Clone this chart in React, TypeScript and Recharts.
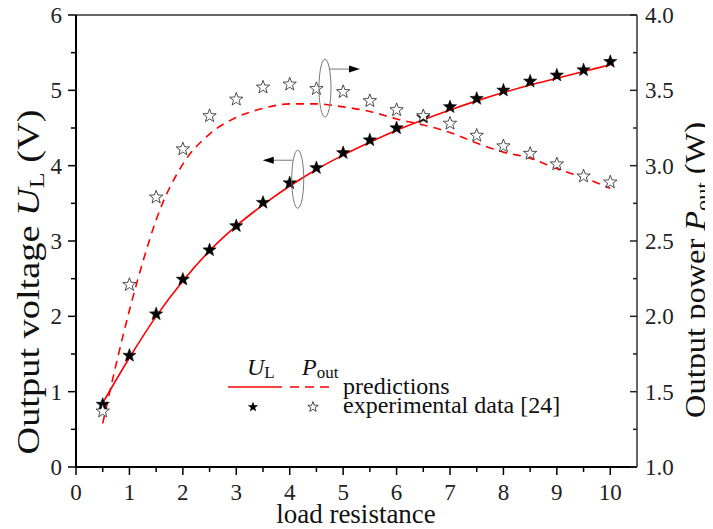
import { ComposedChart, Line, Scatter, XAxis, YAxis, ReferenceLine, ReferenceDot } from 'recharts';

const FONT = 'Liberation Serif, DejaVu Serif, serif';
const TXT = { fontFamily: FONT };

// experimental data, load resistance steps
const xExp = [0.5, 1, 1.5, 2, 2.5, 3, 3.5, 4, 4.5, 5, 5.5, 6, 6.5, 7, 7.5, 8, 8.5, 9, 9.5, 10];
const ulExp = [0.83, 1.48, 2.03, 2.49, 2.88, 3.2, 3.51, 3.77, 3.97, 4.17, 4.34, 4.5, 4.64, 4.78, 4.89, 5.0, 5.12, 5.2, 5.27, 5.38];
const poutExp = [1.37, 2.21, 2.79, 3.11, 3.33, 3.44, 3.52, 3.54, 3.51, 3.49, 3.43, 3.37, 3.33, 3.28, 3.2, 3.13, 3.08, 3.01, 2.93, 2.89];

// predictions
const xUlPred = [0.5, 1, 1.5, 2, 2.5, 3, 3.5, 4, 4.5, 5, 5.5, 6, 6.5, 7, 7.5, 8, 8.5, 9, 9.5, 10];
const ulPred = [0.85, 1.45, 2.0, 2.47, 2.87, 3.2, 3.48, 3.73, 3.95, 4.14, 4.31, 4.47, 4.61, 4.74, 4.86, 4.97, 5.07, 5.16, 5.25, 5.34];
const xPoutPred = [0.5, 0.75, 1, 1.25, 1.5, 2, 2.5, 3, 3.5, 4, 4.5, 5, 5.5, 6, 6.5, 7, 7.5, 8, 8.5, 9, 9.5, 10];
const poutPred = [1.29, 1.68, 2.04, 2.36, 2.64, 3.01, 3.21, 3.32, 3.38, 3.41, 3.41, 3.39, 3.36, 3.31, 3.27, 3.22, 3.15, 3.09, 3.05, 2.98, 2.92, 2.85];

const xTicks = [0, 0.5, 1, 1.5, 2, 2.5, 3, 3.5, 4, 4.5, 5, 5.5, 6, 6.5, 7, 7.5, 8, 8.5, 9, 9.5, 10];
const leftTicks = [0, 0.5, 1, 1.5, 2, 2.5, 3, 3.5, 4, 4.5, 5, 5.5, 6];
const rightTicks = [1, 1.25, 1.5, 1.75, 2, 2.25, 2.5, 2.75, 3, 3.25, 3.5, 3.75, 4];

const toPts = (xs: number[], ys: number[]) => xs.map((x, i) => ({ x, y: ys[i] }));

function starPath(cx: number, cy: number, R: number, r: number) {
  const pts: string[] = [];
  for (let i = 0; i < 10; i++) {
    const rad = i % 2 === 0 ? R : r;
    const a = -Math.PI / 2 + (i * Math.PI) / 5;
    pts.push(`${(cx + rad * Math.cos(a)).toFixed(2)},${(cy + rad * Math.sin(a)).toFixed(2)}`);
  }
  return 'M' + pts.join('L') + 'Z';
}

const FilledStar = (p: any) => <path d={starPath(p.cx, p.cy, 7, 2.9)} fill="#000" stroke="#000" strokeWidth={0.5} />;
const OpenStar = (p: any) => <path d={starPath(p.cx, p.cy, 7, 2.9)} fill="#fff" stroke="#222" strokeWidth={0.8} />;

const XTick = ({ x, y, payload }: any) => {
  const major = Number.isInteger(payload.value);
  return (
    <g>
      <line x1={x} x2={x} y1={y} y2={y + (major ? 8 : 5)} stroke="#000" strokeWidth={1.5} />
      {major && (
        <text x={x} y={y + 33} textAnchor="middle" fontSize={23} style={TXT} fill="#222">
          {payload.value}
        </text>
      )}
    </g>
  );
};

const LeftTick = ({ x, y, payload }: any) => {
  const major = Number.isInteger(payload.value);
  return (
    <g>
      <line x1={x - (major ? 8 : 5)} x2={x} y1={y} y2={y} stroke="#000" strokeWidth={1.5} />
      {major && (
        <text x={x - 14} y={y + 8} textAnchor="end" fontSize={23} style={TXT} fill="#222">
          {payload.value}
        </text>
      )}
    </g>
  );
};

const RightTick = ({ x, y, payload }: any) => {
  const major = Number.isInteger(payload.value * 2);
  return (
    <g>
      <line x1={x - (major ? 7 : 4)} x2={x} y1={y} y2={y} stroke="#222" strokeWidth={1.5} />
      {major && (
        <text x={x + 8} y={y + 8} textAnchor="start" fontSize={23} style={TXT} fill="#222">
          {payload.value.toFixed(1)}
        </text>
      )}
    </g>
  );
};

// ellipse + arrow marking which axis a curve belongs to
const AxisHint = ({ cx, cy, dir }: any) => {
  const ay = cy - 19;
  const x0 = dir > 0 ? cx + 5 : cx - 5;
  const x1 = x0 + dir * 30;
  return (
    <g>
      <ellipse cx={cx} cy={cy} rx={6} ry={29} fill="none" stroke="#777" strokeWidth={1} />
      <line x1={x0} x2={x1 - dir * 10} y1={ay} y2={ay} stroke="#777" strokeWidth={1} />
      <path d={`M${x1},${ay}L${x1 - dir * 11},${ay - 3.5}L${x1 - dir * 11},${ay + 3.5}Z`} fill="#000" />
    </g>
  );
};

export default function App() {
  return (
    <div style={{ position: 'relative', width: 705, height: 521, fontFamily: FONT }}>
      <style>{'.recharts-surface{overflow:visible}'}</style>
      <ComposedChart width={705} height={521} margin={{ top: 7, right: 0, bottom: 0, left: 0 }}>
        <XAxis
          dataKey="x"
          type="number"
          domain={[0, 10.5]}
          ticks={xTicks}
          interval={0}
          height={62}
          tickSize={0}
          tickMargin={0}
          tickLine={false}
          tick={XTick}
          axisLine={{ stroke: '#000', strokeWidth: 2 }}
        />
        <YAxis
          yAxisId="left"
          dataKey="y"
          type="number"
          domain={[0, 6]}
          ticks={leftTicks}
          interval={0}
          width={68}
          tickSize={0}
          tickMargin={0}
          tickLine={false}
          tick={LeftTick}
          axisLine={{ stroke: '#000', strokeWidth: 2 }}
        />
        <YAxis
          yAxisId="right"
          orientation="right"
          dataKey="y"
          type="number"
          domain={[1, 4]}
          ticks={rightTicks}
          interval={0}
          width={76}
          tickSize={0}
          tickMargin={0}
          tickLine={false}
          tick={RightTick}
          axisLine={{ stroke: '#333', strokeWidth: 1.5 }}
        />
        <ReferenceLine yAxisId="left" y={6} stroke="#333" strokeWidth={1.5} />
        <Line
          yAxisId="left"
          data={toPts(xUlPred, ulPred)}
          dataKey="y"
          type="monotone"
          stroke="#ff0000"
          strokeWidth={1.6}
          dot={false}
          activeDot={false}
          isAnimationActive={false}
        />
        <Line
          yAxisId="right"
          data={toPts(xPoutPred, poutPred)}
          dataKey="y"
          type="monotone"
          stroke="#ff0000"
          strokeWidth={1.6}
          strokeDasharray="8 6"
          dot={false}
          activeDot={false}
          isAnimationActive={false}
        />
        <Scatter yAxisId="left" data={toPts(xExp, ulExp)} shape={FilledStar} isAnimationActive={false} />
        <Scatter yAxisId="right" data={toPts(xExp, poutExp)} shape={OpenStar} isAnimationActive={false} />
        <ReferenceDot yAxisId="left" x={4.66} y={5.03} r={0} shape={(p: any) => <AxisHint {...p} dir={1} />} />
        <ReferenceDot yAxisId="left" x={4.15} y={3.82} r={0} shape={(p: any) => <AxisHint {...p} dir={-1} />} />
      </ComposedChart>

      <svg width={705} height={521} style={{ position: 'absolute', left: 0, top: 0, pointerEvents: 'none', overflow: 'visible' }}>
        <g style={TXT} fill="#111">
          <text x={348} y={515} textAnchor="middle" fontSize={27} style={TXT}>load resistance</text>
          <text
            x={31}
            y={274}
            textAnchor="middle"
            fontSize={31}
            style={TXT}
            textLength={345}
            lengthAdjust="spacingAndGlyphs"
            transform="rotate(-90 31 274)"
          >
            Output voltage <tspan fontStyle="italic">U</tspan>
            <tspan fontSize={21} dy={5}>L</tspan>
            <tspan dy={-5}> (V)</tspan>
          </text>
          <text
            x={697}
            y={262}
            textAnchor="middle"
            fontSize={29}
            style={TXT}
            textLength={296}
            lengthAdjust="spacingAndGlyphs"
            transform="rotate(-90 697 262)"
          >
            Output power <tspan fontStyle="italic">P</tspan>
            <tspan fontSize={20} dy={5}>out</tspan>
            <tspan dy={-5}> (W)</tspan>
          </text>

          <text x={239} y={367} fontSize={24} style={TXT}>
            <tspan fontStyle="italic">U</tspan>
            <tspan fontSize={17} dy={3}>L</tspan>
          </text>
          <text x={294} y={367} fontSize={24} style={TXT}>
            <tspan fontStyle="italic">P</tspan>
            <tspan fontSize={17} dy={3}>out</tspan>
          </text>
          <line x1={220} x2={274} y1={379} y2={379} stroke="#ff0000" strokeWidth={1.6} />
          <line x1={282} x2={327} y1={379} y2={379} stroke="#ff0000" strokeWidth={1.6} strokeDasharray="9 6" />
          <text x={335} y={386} fontSize={24} style={TXT}>predictions</text>
          <path d={starPath(245, 399, 5.5, 2.2)} fill="#000" />
          <path d={starPath(305, 399, 5.5, 2.2)} fill="#fff" stroke="#222" strokeWidth={0.8} />
          <text x={335} y={405} fontSize={24} style={TXT}>experimental data [24]</text>
        </g>
      </svg>
    </div>
  );
}
